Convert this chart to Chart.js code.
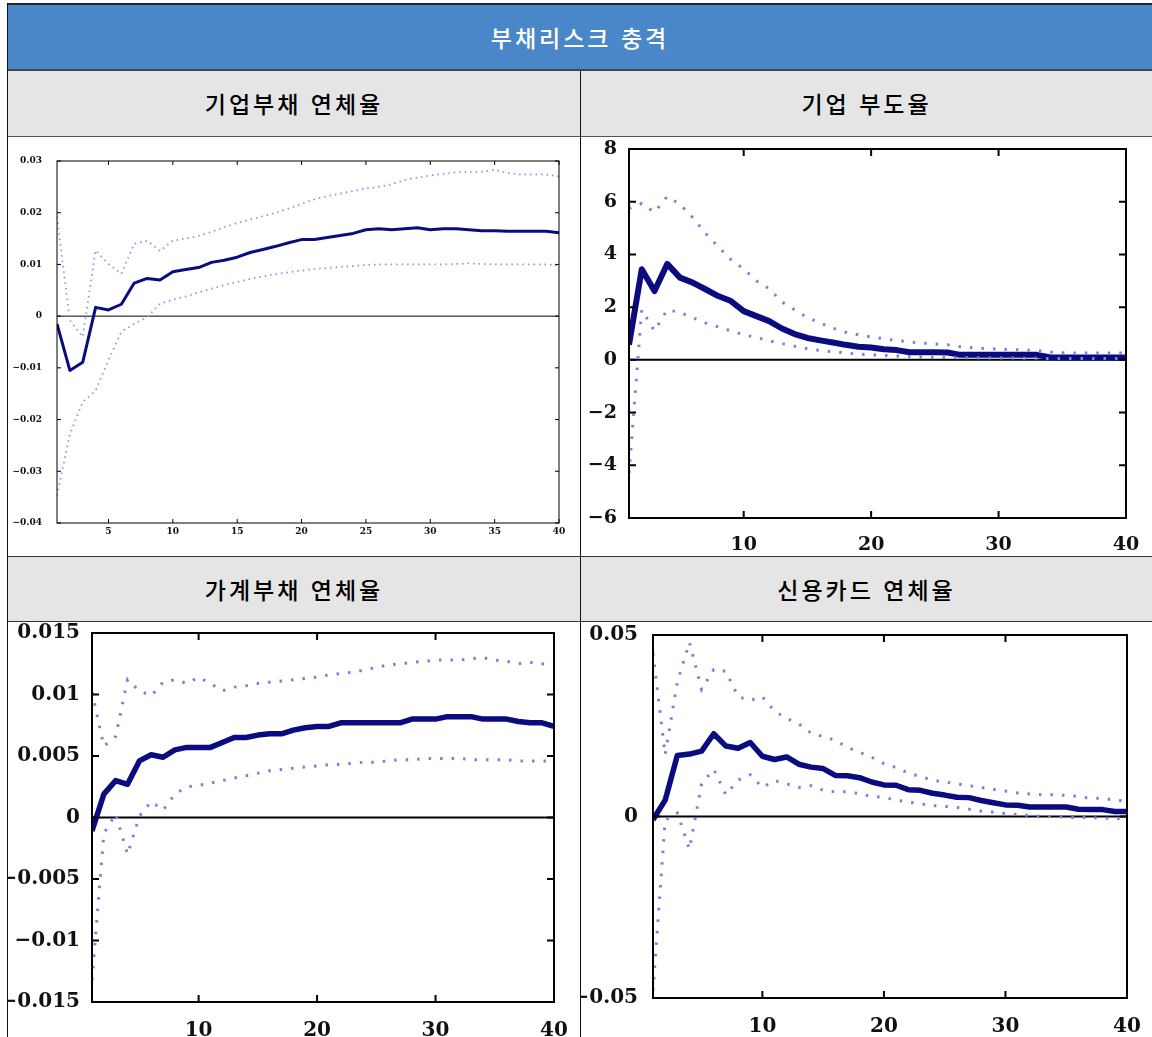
<!DOCTYPE html>
<html lang="ko">
<head>
<meta charset="utf-8">
<script src="https://cdn.jsdelivr.net/npm/chart.js@4/dist/chart.umd.min.js"></script>
<style>
  body { margin: 0; width: 1152px; height: 1037px; overflow: hidden; background: #fff; position: relative; }
  .blk { position: absolute; }
  .title { position: absolute; text-align: center; font-family: "Noto Sans CJK KR", sans-serif; font-size: 23px; letter-spacing: 3px; font-weight: 500; }
  canvas { position: absolute; }
</style>
</head>
<body>
<div class="blk" style="left:8px;top:5px;width:1144px;height:64px;background:#4a87c9"></div>
<div class="blk" style="left:7px;top:3px;width:1145px;height:2px;background:#262626"></div>
<div class="blk" style="left:7px;top:69px;width:1145px;height:2px;background:#3d4650"></div>
<div class="blk" style="left:8px;top:71px;width:1144px;height:65px;background:#e5e5e5"></div>
<div class="blk" style="left:7px;top:136px;width:1145px;height:1px;background:#555"></div>
<div class="blk" style="left:7px;top:556px;width:1145px;height:1px;background:#333"></div>
<div class="blk" style="left:8px;top:557px;width:1144px;height:64px;background:#e5e5e5"></div>
<div class="blk" style="left:7px;top:621px;width:1145px;height:1px;background:#333"></div>
<div class="blk" style="left:7px;top:3px;width:1px;height:1034px;background:#111"></div>
<div class="blk" style="left:580px;top:71px;width:1px;height:966px;background:#111"></div>

<div class="title" style="left:8px;top:5px;width:1144px;line-height:64px;color:#fff">부채리스크 충격</div>
<div class="title" style="left:8px;top:71px;width:572px;line-height:65px;color:#000">기업부채 연체율</div>
<div class="title" style="left:581px;top:71px;width:571px;line-height:65px;color:#000">기업 부도율</div>
<div class="title" style="left:8px;top:557px;width:572px;line-height:64px;color:#000">가계부채 연체율</div>
<div class="title" style="left:581px;top:557px;width:571px;line-height:64px;color:#000">신용카드 연체율</div>

<canvas id="c1" width="572" height="419" style="left:8px;top:137px"></canvas>
<canvas id="c2" width="571" height="419" style="left:581px;top:137px"></canvas>
<canvas id="c3" width="572" height="415" style="left:8px;top:622px"></canvas>
<canvas id="c4" width="571" height="415" style="left:581px;top:622px"></canvas>

<script>
const periods = [1,2,3,4,5,6,7,8,9,10,11,12,13,14,15,16,17,18,19,20,21,22,23,24,25,26,27,28,29,30,31,32,33,34,35,36,37,38,39,40];

// 기업부채 연체율
const resp1 = [-0.0015,-0.0105,-0.0089,0.0017,0.0012,0.0023,0.0064,0.0073,0.0070,0.0086,0.0090,0.0094,0.0104,0.0108,0.0114,0.0123,0.0129,0.0135,0.0142,0.0148,0.0148,0.0152,0.0156,0.0160,0.0167,0.0169,0.0167,0.0169,0.0171,0.0167,0.0169,0.0169,0.0167,0.0165,0.0165,0.0164,0.0164,0.0164,0.0164,0.0161];
const upper1 = [0.0192,-0.0008,-0.0040,0.0127,0.0101,0.0082,0.0140,0.0146,0.0126,0.0146,0.0150,0.0155,0.0163,0.0172,0.0180,0.0187,0.0193,0.0200,0.0208,0.0217,0.0226,0.0232,0.0237,0.0242,0.0247,0.0250,0.0255,0.0263,0.0268,0.0272,0.0275,0.0278,0.0279,0.0279,0.0283,0.0277,0.0274,0.0274,0.0274,0.0270];
const lower1 = [-0.0347,-0.0228,-0.0166,-0.0144,-0.0085,-0.0030,-0.0015,-0.0002,0.0024,0.0032,0.0038,0.0046,0.0053,0.0060,0.0066,0.0072,0.0077,0.0081,0.0085,0.0088,0.0091,0.0093,0.0095,0.0097,0.0099,0.0100,0.0100,0.0100,0.0100,0.0100,0.0100,0.0101,0.0102,0.0101,0.0100,0.0100,0.0100,0.0100,0.0100,0.0098];
const yTicks1 = [-0.04,-0.03,-0.02,-0.01,0,0.01,0.02,0.03];
const xTicks1 = [5,10,15,20,25,30,35,40];

// 기업 부도율
const resp2 = [0.57,3.44,2.61,3.64,3.12,2.93,2.68,2.42,2.23,1.85,1.66,1.47,1.19,0.98,0.83,0.74,0.66,0.57,0.50,0.47,0.40,0.37,0.29,0.29,0.29,0.28,0.19,0.19,0.19,0.19,0.19,0.19,0.19,0.10,0.09,0.09,0.09,0.09,0.09,0.09];
const upper2 = [5.74,5.93,5.60,6.20,5.90,5.40,4.80,4.30,3.80,3.45,3.00,2.70,2.20,1.90,1.60,1.40,1.20,1.05,0.95,0.87,0.80,0.73,0.68,0.64,0.60,0.57,0.50,0.46,0.43,0.41,0.39,0.37,0.35,0.30,0.27,0.26,0.26,0.26,0.26,0.26];
const lower2 = [-4.30,1.90,1.10,1.90,1.80,1.60,1.40,1.25,1.10,0.95,0.85,0.72,0.62,0.52,0.42,0.36,0.31,0.26,0.22,0.19,0.17,0.15,0.13,0.11,0.10,0.09,0.08,0.08,0.07,0.07,0.07,0.06,0.06,0.05,0.05,0.05,0.05,0.05,0.05,0.05];
const yTicks2 = [-6,-4,-2,0,2,4,6,8];
const xTicks2 = [10,20,30,40];

// 가계부채 연체율
const resp3 = [-0.0011,0.0019,0.0030,0.0027,0.0046,0.0051,0.0049,0.0055,0.0057,0.0057,0.0057,0.0061,0.0065,0.0065,0.0067,0.0068,0.0068,0.0071,0.0073,0.0074,0.0074,0.0077,0.0077,0.0077,0.0077,0.0077,0.0077,0.0080,0.0080,0.0080,0.0082,0.0082,0.0082,0.0080,0.0080,0.0080,0.0078,0.0077,0.0077,0.0074];
const upper3 = [0.0102,0.0058,0.0066,0.0112,0.0103,0.0099,0.0110,0.0112,0.0109,0.0114,0.0109,0.0103,0.0106,0.0107,0.0109,0.0110,0.0111,0.0112,0.0113,0.0114,0.0116,0.0117,0.0118,0.0120,0.0122,0.0124,0.0125,0.0126,0.0127,0.0128,0.0128,0.0128,0.0129,0.0130,0.0128,0.0127,0.0125,0.0126,0.0125,0.0124];
const lower3 = [-0.0132,-0.0013,0.0003,-0.0030,0.0001,0.0013,0.0006,0.0019,0.0025,0.0026,0.0028,0.0030,0.0032,0.0034,0.0036,0.0038,0.0039,0.0040,0.0041,0.0042,0.0043,0.0043,0.0044,0.0045,0.0045,0.0046,0.0047,0.0047,0.0048,0.0048,0.0048,0.0048,0.0047,0.0047,0.0047,0.0047,0.0046,0.0046,0.0046,0.0046];
const yTicks3 = [-0.015,-0.01,-0.005,0,0.005,0.01,0.015];
const xTicks3 = [10,20,30,40];

// 신용카드 연체율
const resp4 = [-0.0009,0.0045,0.0168,0.0172,0.0180,0.0228,0.0194,0.0188,0.0204,0.0166,0.0157,0.0164,0.0144,0.0136,0.0132,0.0113,0.0112,0.0107,0.0095,0.0087,0.0086,0.0074,0.0072,0.0064,0.0059,0.0053,0.0052,0.0044,0.0038,0.0032,0.0031,0.0026,0.0026,0.0026,0.0026,0.0020,0.0019,0.0019,0.0014,0.0014];
const upper4 = [0.0450,0.0170,0.0370,0.0480,0.0350,0.0405,0.0400,0.0330,0.0320,0.0330,0.0290,0.0270,0.0255,0.0230,0.0220,0.0210,0.0190,0.0177,0.0163,0.0146,0.0135,0.0120,0.0110,0.0100,0.0095,0.0090,0.0085,0.0080,0.0075,0.0070,0.0065,0.0062,0.0060,0.0060,0.0058,0.0055,0.0050,0.0050,0.0045,0.0042];
const lower4 = [-0.0480,-0.0010,0.0010,-0.0090,0.0090,0.0130,0.0060,0.0100,0.0115,0.0080,0.0099,0.0090,0.0080,0.0085,0.0072,0.0068,0.0068,0.0063,0.0055,0.0053,0.0045,0.0040,0.0035,0.0030,0.0028,0.0025,0.0020,0.0015,0.0012,0.0008,0.0005,0.0003,0.0000,0.0000,-0.0002,-0.0003,-0.0003,-0.0005,-0.0005,-0.0008];
const yTicks4 = [-0.05,0,0.05];
const xTicks4 = [10,20,30,40];

// frame, zero line and inward tick marks, like the matlab style plots
const framePlugin = {
    id: 'frame',
    beforeDatasetsDraw(chart, args, opts) {
        const { ctx, chartArea: a, scales } = chart;
        const y0 = scales.y.getPixelForValue(0);
        ctx.save();
        ctx.strokeStyle = '#000';
        ctx.lineWidth = opts.zero;
        ctx.beginPath();
        ctx.moveTo(a.left, y0);
        ctx.lineTo(a.right, y0);
        ctx.stroke();
        ctx.restore();
    },
    afterDatasetsDraw(chart, args, opts) {
        const { ctx, chartArea: a, scales } = chart;
        ctx.save();
        ctx.strokeStyle = opts.color;
        ctx.lineWidth = opts.width;
        ctx.strokeRect(a.left, a.top, a.right - a.left, a.bottom - a.top);
        ctx.beginPath();
        scales.x.ticks.forEach(t => {
            const px = scales.x.getPixelForValue(t.value);
            ctx.moveTo(px, a.bottom); ctx.lineTo(px, a.bottom - opts.tick);
            ctx.moveTo(px, a.top); ctx.lineTo(px, a.top + opts.tick);
        });
        scales.y.ticks.forEach(t => {
            const py = scales.y.getPixelForValue(t.value);
            ctx.moveTo(a.left, py); ctx.lineTo(a.left + opts.tick, py);
            ctx.moveTo(a.right, py); ctx.lineTo(a.right - opts.tick, py);
        });
        ctx.stroke();
        ctx.restore();
    }
};

const fmt = v => String(v).replace('-', '\u2212');
const pts = arr => periods.map((p, i) => ({ x: p, y: arr[i] }));

function makeChart(id, s) {
    const ctx = document.getElementById(id).getContext('2d');
    const band = arr => ({
        data: pts(arr),
        borderColor: s.bandColor,
        borderWidth: s.bandWidth,
        borderDash: s.dash,
        pointRadius: 0,
        tension: 0
    });
    return new Chart(ctx, {
        type: 'line',
        data: {
            datasets: [
                band(s.upper),
                band(s.lower),
                {
                    data: pts(s.resp),
                    borderColor: '#0b0b80',
                    borderWidth: s.lineWidth,
                    borderJoinStyle: 'round',
                    pointRadius: 0,
                    tension: 0
                }
            ]
        },
        options: {
            responsive: false,
            animation: false,
            devicePixelRatio: 1,
            layout: { padding: { top: s.pad[0], right: s.pad[1], bottom: 0, left: 0 } },
            plugins: {
                legend: { display: false },
                tooltip: { enabled: false },
                frame: { color: '#000', width: s.frameWidth, zero: s.zeroWidth, tick: s.tick }
            },
            scales: {
                x: {
                    type: 'linear',
                    min: 1,
                    max: 40,
                    afterBuildTicks: ax => { ax.ticks = s.xTicks.map(v => ({ value: v })); },
                    // keep the plot edge fixed, the last label may hang past it
                    afterFit: ax => { ax.height = s.xHeight; ax.paddingRight = 0; ax.paddingLeft = 0; },
                    grid: { display: false, drawTicks: false },
                    border: { display: false },
                    ticks: { color: '#111', padding: s.xPad, maxRotation: 0, autoSkip: false,
                             font: { family: 'DejaVu Serif', size: s.font, weight: 'bold' } }
                },
                y: {
                    min: s.yTicks[0],
                    max: s.yTicks[s.yTicks.length - 1],
                    afterBuildTicks: ax => { ax.ticks = s.yTicks.map(v => ({ value: v })); },
                    afterFit: ax => { ax.width = s.yWidth; ax.paddingTop = 0; ax.paddingBottom = 0; },
                    grid: { display: false, drawTicks: false },
                    border: { display: false },
                    ticks: { color: '#111', padding: s.yPad, autoSkip: false, callback: v => fmt(v),
                             font: { family: 'DejaVu Serif', size: s.font, weight: 'bold' } }
                }
            }
        },
        plugins: [framePlugin]
    });
}

makeChart('c1', {
    resp: resp1, upper: upper1, lower: lower1, xTicks: xTicks1, yTicks: yTicks1,
    pad: [24, 21], yWidth: 49, xHeight: 33, xPad: 3, yPad: 15, font: 9,
    lineWidth: 3, bandWidth: 1.8, dash: [1.5, 4], bandColor: '#9090ee',
    frameWidth: 1, zeroWidth: 1, tick: 4
});
makeChart('c2', {
    resp: resp2, upper: upper2, lower: lower2, xTicks: xTicks2, yTicks: yTicks2,
    pad: [12, 26], yWidth: 48, xHeight: 38, xPad: 16, yPad: 12, font: 19,
    lineWidth: 6, bandWidth: 3, dash: [2.5, 9], bandColor: '#7e7ee2',
    frameWidth: 2, zeroWidth: 2, tick: 7
});
makeChart('c3', {
    resp: resp3, upper: upper3, lower: lower3, xTicks: xTicks3, yTicks: yTicks3,
    pad: [11, 26], yWidth: 84, xHeight: 35, xPad: 17, yPad: 12, font: 20,
    lineWidth: 5.5, bandWidth: 3, dash: [2.5, 9], bandColor: '#7e7ee2',
    frameWidth: 2, zeroWidth: 2, tick: 7
});
makeChart('c4', {
    resp: resp4, upper: upper4, lower: lower4, xTicks: xTicks4, yTicks: yTicks4,
    pad: [13, 25], yWidth: 72, xHeight: 39, xPad: 17, yPad: 15, font: 20,
    lineWidth: 5.5, bandWidth: 3, dash: [2.5, 9], bandColor: '#7e7ee2',
    frameWidth: 2, zeroWidth: 2, tick: 7
});
</script>
</body>
</html>
